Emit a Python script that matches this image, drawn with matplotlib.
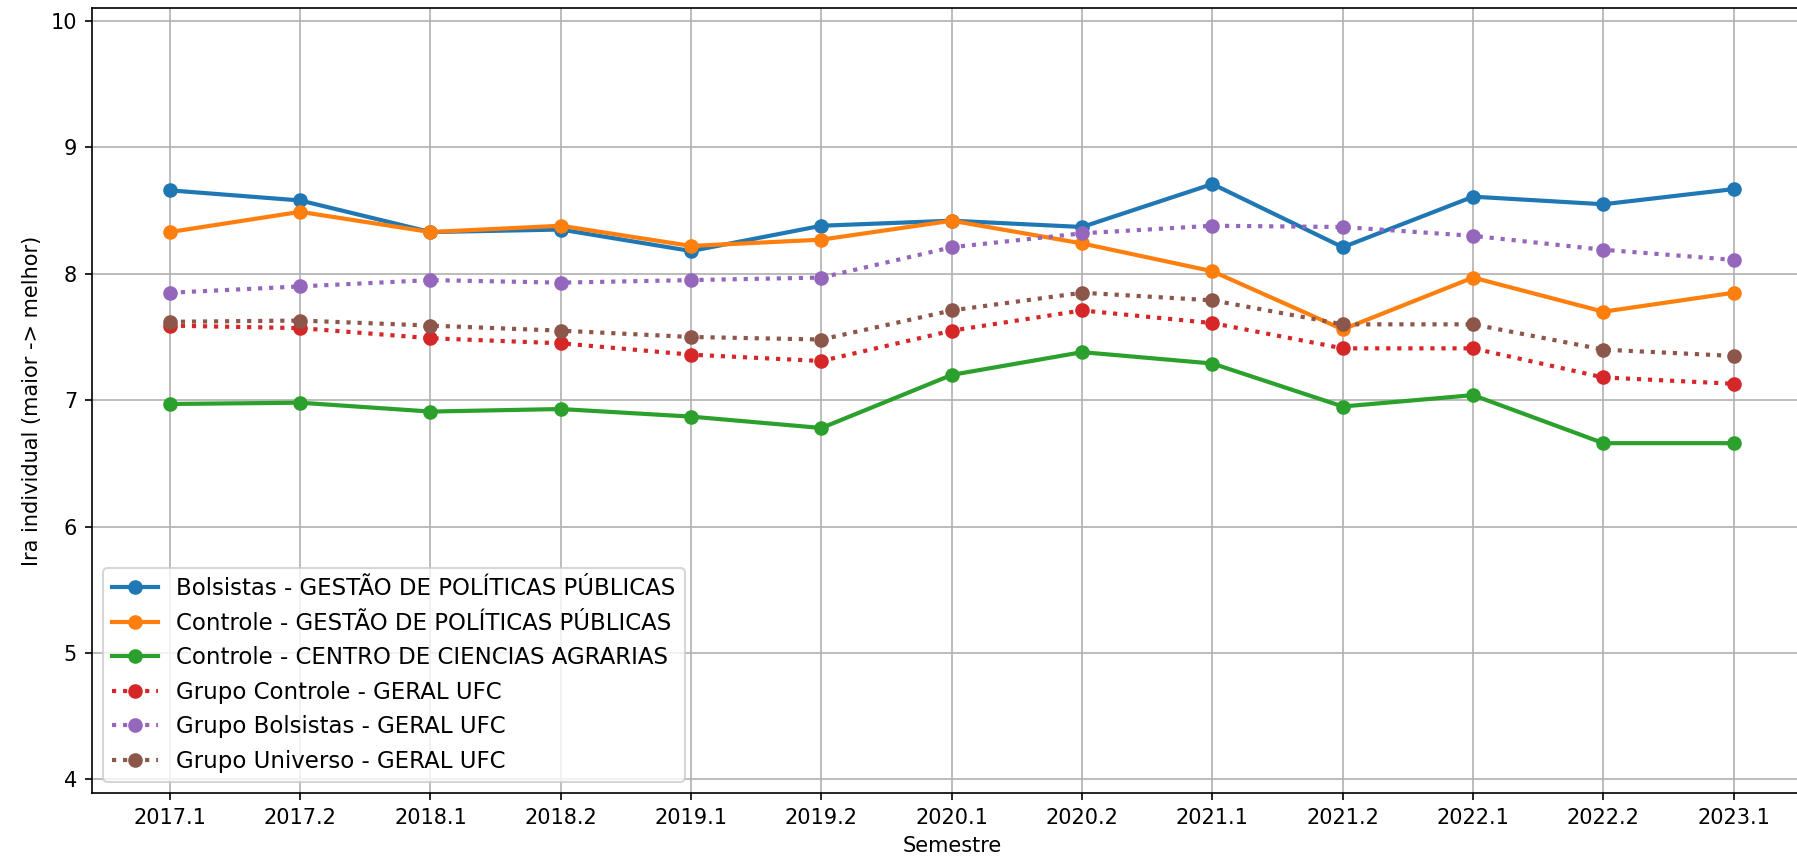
import matplotlib.pyplot as plt

# Semestres e medias de IRA
semestres = ['2017.1', '2017.2', '2018.1', '2018.2', '2019.1', '2019.2', '2020.1',
             '2020.2', '2021.1', '2021.2', '2022.1', '2022.2', '2023.1']

bolsistas_gpp = [8.66, 8.58, 8.33, 8.35, 8.18, 8.38, 8.42, 8.37, 8.71, 8.21, 8.61, 8.55, 8.67]
controle_gpp = [8.33, 8.49, 8.33, 8.38, 8.22, 8.27, 8.42, 8.24, 8.02, 7.56, 7.97, 7.70, 7.85]
controle_cca = [6.97, 6.98, 6.91, 6.93, 6.87, 6.78, 7.20, 7.38, 7.29, 6.95, 7.04, 6.66, 6.66]
controle_geral = [7.59, 7.57, 7.49, 7.45, 7.36, 7.31, 7.55, 7.71, 7.61, 7.41, 7.41, 7.18, 7.13]
bolsistas_geral = [7.85, 7.90, 7.95, 7.93, 7.95, 7.97, 8.21, 8.32, 8.38, 8.37, 8.30, 8.19, 8.11]
universo_geral = [7.62, 7.63, 7.59, 7.55, 7.50, 7.48, 7.71, 7.85, 7.79, 7.60, 7.60, 7.40, 7.35]

fig = plt.figure(figsize=(1797 / 150, 858 / 150), dpi=150)
# o grafico original foi recortado: eixo passa da borda direita e o titulo fica de fora
ax = fig.add_axes([0.051, 0.0754, 0.9573, 0.9149])

ax.plot(semestres, bolsistas_gpp, marker='o', lw=2, label='Bolsistas - GESTÃO DE POLÍTICAS PÚBLICAS')
ax.plot(semestres, controle_gpp, marker='o', lw=2, label='Controle - GESTÃO DE POLÍTICAS PÚBLICAS')
ax.plot(semestres, controle_cca, marker='o', lw=2, label='Controle - CENTRO DE CIENCIAS AGRARIAS')
ax.plot(semestres, controle_geral, marker='o', lw=2, linestyle=':', label='Grupo Controle - GERAL UFC')
ax.plot(semestres, bolsistas_geral, marker='o', lw=2, linestyle=':', label='Grupo Bolsistas - GERAL UFC')
ax.plot(semestres, universo_geral, marker='o', lw=2, linestyle=':', label='Grupo Universo - GERAL UFC')

ax.set_ylim(3.89, 10.1)
ax.set_xlabel('Semestre')
ax.set_ylabel('Ira individual (maior -> melhor)')
ax.grid(True)
ax.legend(loc='lower left', fontsize=11)

plt.savefig('out.png', dpi=150)
